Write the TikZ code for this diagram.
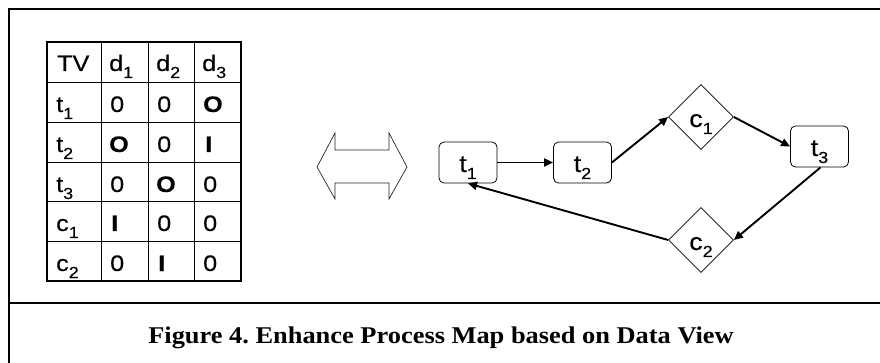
\documentclass[tikz,border=0pt]{standalone}
\usepackage{fontspec}
\setmainfont{Liberation Serif}
\setsansfont{Liberation Sans}
\newfontfamily\widesans[FakeStretch=1.12,FakeBold=0.25]{Liberation Sans}
\newfontfamily\widecaption[FakeStretch=1.1]{Liberation Serif}
\usetikzlibrary{shapes.geometric,arrows.meta}
\newcommand\cellfont{\widesans\fontsize{22.5}{24}\selectfont}
\newcommand\nodefont{\widesans\fontsize{24}{26}\selectfont}
% lowered index, set a little smaller than the letter it follows
\newcommand\ix[1]{\raisebox{-7pt}{\fontsize{16}{16}\selectfont #1}}
\tikzset{
  cell/.style={anchor=base west,inner sep=0pt,font=\cellfont},
  taskbox/.style={draw,rounded corners=5pt,line width=0.8pt,minimum width=58pt,minimum height=41pt,
    inner sep=0pt,text height=22pt,text depth=3pt,font=\nodefont},
  condbox/.style={draw,diamond,line width=0.8pt,minimum width=65pt,minimum height=65pt,
    inner sep=0pt,text height=22pt,text depth=2pt,font=\nodefont},
  flow/.style={line width=1.9pt,-{Triangle[length=9pt,width=8pt]}},
}
\begin{document}
\begin{tikzpicture}[x=1pt,y=-1pt]
\useasboundingbox (0,0) rectangle (880,363);
% outer frame: left rule, top rule and the caption divider
\draw[line width=2.4pt] (880,9) -- (9,9) -- (9,363);
\draw[line width=2.4pt] (9,303) -- (880,303);
% matrix of tasks/conditions against data items
\draw[line width=0.8pt] (101,42) -- (101,281) (148,42) -- (148,281) (194,42) -- (194,281);
\foreach \y in {82,122,162,201,241} \draw[line width=0.8pt] (47,\y) -- (241,\y);
\draw[line width=2pt] (47,42) rectangle (241,281);
\node[cell] (h0) at (57,71) {TV};
\node[cell] (h1) at (109,71) {d\ix{1}};
\node[cell] (h2) at (156,71) {d\ix{2}};
\node[cell] (h3) at (202,71) {d\ix{3}};
\node[cell] (r1) at (56,112) {t\ix{1}};
\node[cell] (r2) at (56,152) {t\ix{2}};
\node[cell] (r3) at (56,192) {t\ix{3}};
\node[cell] (r4) at (56,231) {c\ix{1}};
\node[cell] (r5) at (56,271) {c\ix{2}};
% row t1
\node[cell] (a11) at (110,112) {0};
\node[cell] (a12) at (157,112) {0};
\node[cell] (a13) at (203,112) {\bfseries O};
% row t2
\node[cell] (a21) at (109,152) {\bfseries O};
\node[cell] (a22) at (157,152) {0};
\node[cell] (a23) at (205,152) {\bfseries I};
% row t3
\node[cell] (a31) at (110,192) {0};
\node[cell] (a32) at (156,192) {\bfseries O};
\node[cell] (a33) at (203,192) {0};
% row c1
\node[cell] (a41) at (111,231) {\bfseries I};
\node[cell] (a42) at (157,231) {0};
\node[cell] (a43) at (203,231) {0};
% row c2
\node[cell] (a51) at (110,271) {0};
\node[cell] (a52) at (158,271) {\bfseries I};
\node[cell] (a53) at (203,271) {0};
% two-headed block arrow
\draw[line width=0.7pt,black!85] (317,167) -- (335,133) -- (335,150) -- (389,150) -- (389,133)
  -- (407,167) -- (389,199) -- (389,183) -- (335,183) -- (335,199) -- cycle;
% process map
\node[taskbox] (t1) at (468,162.5) {t\ix{1}};
\node[taskbox] (t2) at (582.5,162.5) {t\ix{2}};
\node[taskbox] (t3) at (819.5,146.5) {t\ix{3}};
\node[condbox] (c1) at (701,117) {c\ix{1}};
\node[condbox] (c2) at (701,240) {c\ix{2}};
\draw[flow] (t1.east) -- (t2.west);
\draw[flow] (t2.east) -- (c1.west);
\draw[flow] (c1.east) -- (t3.west);
\draw[flow] ([xshift=1pt]t3.south) -- (c2.east);
\draw[flow] (c2.west) -- (t1.south);
% caption
\node[anchor=base,font=\widecaption\bfseries\fontsize{24}{26}\selectfont] (cap) at (441,343)
  {\frenchspacing Figure 4. Enhance Process Map based on Data View};
\end{tikzpicture}
\end{document}
